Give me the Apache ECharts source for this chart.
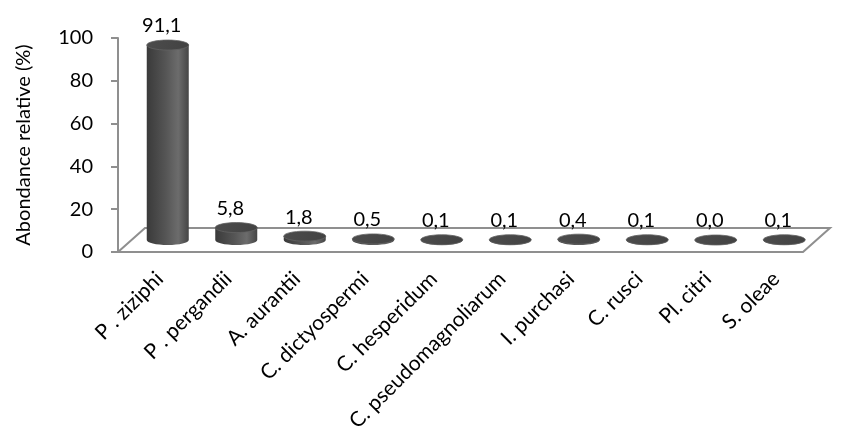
<!DOCTYPE html>
<html>
<head>
<meta charset="utf-8">
<script src="https://cdn.jsdelivr.net/npm/echarts@6/dist/echarts.min.js"></script>
<style>
  html, body { margin: 0; padding: 0; background: #fff; }
  #chart { width: 847px; height: 442px; }
</style>
</head>
<body>
<div id="chart"></div>
<script>
// Species and their relative abundance (%)
const categories = [
  'P . ziziphi', 'P . pergandii', 'A. aurantii', 'C. dictyospermi', 'C. hesperidum',
  'C. pseudomagnoliarum', 'I. purchasi', 'C. rusci', 'Pl. citri', 'S. oleae'
];
const abundance = [91.1, 5.8, 1.8, 0.5, 0.1, 0.1, 0.4, 0.1, 0.0, 0.1];
const yTicks = { min: 0, max: 100, interval: 20 };

// Floor depth of the pseudo-3D box (pixels)
const DEPTH_X = 27;
const DEPTH_Y = -24;
const FONT = 'Lato, "Open Sans", sans-serif';

const chart = echarts.init(document.getElementById('chart'), null, { renderer: 'canvas' });

function fmt(v) {
  return v.toFixed(1).replace('.', ',');
}

// Draws the floor parallelogram under the bars
function renderFloor(params, api) {
  const first = api.coord([0, 0]);
  const last = api.coord([categories.length - 1, 0]);
  const bw = api.size([1, 0])[0];
  const l = first[0] - bw / 2;
  const r = last[0] + bw / 2;
  const y = first[1];
  return {
    type: 'polygon',
    shape: { points: [[l, y], [r, y], [r + DEPTH_X, y + DEPTH_Y], [l + DEPTH_X, y + DEPTH_Y]] },
    style: { fill: '#ffffff', stroke: '#8f8f8f', lineWidth: 2 },
    silent: true
  };
}

// Draws one cylinder standing in the middle of the floor depth
function renderCylinder(params, api) {
  const idx = api.value(0);
  const val = api.value(1);
  const base = api.coord([idx, 0]);
  const top = api.coord([idx, val]);
  const cx = base[0] + DEPTH_X / 2 + 2;
  const by = base[1] + DEPTH_Y / 2;
  const ty = top[1] + DEPTH_Y / 2;
  const rx = 21;
  const ry = 5;
  const k = 0.5523;
  const L = cx - rx, R = cx + rx;

  const body = [
    'M', L, ty,
    'L', L, by,
    'C', L, by + k * ry, cx - k * rx, by + ry, cx, by + ry,
    'C', cx + k * rx, by + ry, R, by + k * ry, R, by,
    'L', R, ty, 'Z'
  ].join(' ');

  const ell = [
    'M', L, ty,
    'C', L, ty - k * ry, cx - k * rx, ty - ry, cx, ty - ry,
    'C', cx + k * rx, ty - ry, R, ty - k * ry, R, ty,
    'C', R, ty + k * ry, cx + k * rx, ty + ry, cx, ty + ry,
    'C', cx - k * rx, ty + ry, L, ty + k * ry, L, ty, 'Z'
  ].join(' ');

  const bodyFill = new echarts.graphic.LinearGradient(0, 0, 1, 0, [
    { offset: 0, color: '#3a3a3a' },
    { offset: 0.45, color: '#555555' },
    { offset: 0.75, color: '#6c6c6c' },
    { offset: 1, color: '#454545' }
  ]);
  const topFill = new echarts.graphic.LinearGradient(0, 0, 1, 1, [
    { offset: 0, color: '#4c4c4c' },
    { offset: 1, color: '#424242' }
  ]);

  return {
    type: 'group',
    children: [
      { type: 'path', shape: { pathData: body }, style: { fill: bodyFill } },
      { type: 'path', shape: { pathData: ell }, style: { fill: topFill, stroke: '#626262', lineWidth: 0.8 } },
      {
        type: 'text',
        style: {
          text: fmt(val), x: cx - 6, y: ty - 9,
          align: 'center', verticalAlign: 'bottom',
          font: '20px ' + FONT, fill: '#000'
        }
      }
    ]
  };
}

const option = {
  animation: false,
  backgroundColor: '#ffffff',
  grid: { left: 118, right: 44, top: 38, bottom: 190 },
  xAxis: {
    type: 'category',
    data: categories,
    axisLine: { show: false },
    axisTick: { show: false },
    axisLabel: {
      rotate: 45, margin: 16, interval: 0,
      align: 'right', verticalAlign: 'top',
      fontSize: 21, fontFamily: FONT, color: '#000'
    }
  },
  yAxis: {
    type: 'value',
    min: yTicks.min, max: yTicks.max, interval: yTicks.interval,
    name: 'Abondance relative (%)',
    nameLocation: 'middle',
    nameGap: 84,
    nameTextStyle: { fontSize: 20, fontFamily: FONT, color: '#000' },
    axisLine: { show: true, lineStyle: { color: '#8f8f8f', width: 2 } },
    axisTick: { show: true, length: 7, lineStyle: { color: '#8f8f8f', width: 2 } },
    axisLabel: { margin: 25, fontSize: 20, fontFamily: FONT, color: '#000' },
    splitLine: { show: false }
  },
  series: [
    {
      type: 'custom',
      renderItem: renderFloor,
      data: [[0, 0]],
      encode: { x: 0, y: 1 },
      z: 1,
      silent: true
    },
    {
      type: 'custom',
      renderItem: renderCylinder,
      data: abundance.map((v, i) => [i, v]),
      encode: { x: 0, y: 1 },
      z: 2
    }
  ]
};

chart.setOption(option);
</script>
</body>
</html>
